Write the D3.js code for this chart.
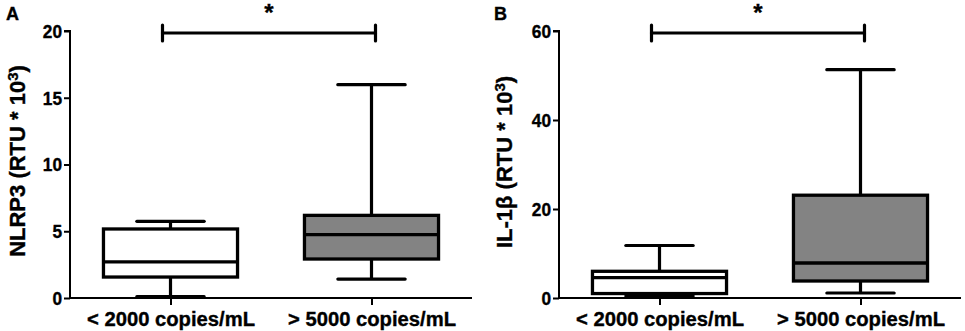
<!DOCTYPE html>
<html>
<head>
<meta charset="utf-8">
<script src="https://cdn.jsdelivr.net/npm/d3@7/dist/d3.min.js"></script>
<style>
  html, body { margin: 0; padding: 0; background: #fff; }
  svg { display: block; }
  text { font-family: "Liberation Sans", Arial, Helvetica, sans-serif; font-weight: bold; fill: #000; stroke: #000; stroke-width: 0.35px; }
</style>
</head>
<body>
<svg id="chart" width="965" height="331"></svg>
<script>
// ---- data ----
const categories = ["< 2000 copies/mL", "> 5000 copies/mL"];
// five-number summaries: [min, q1, median, q3, max]
const nlrp3Stats = [
  [0.1, 1.57, 2.70, 5.17, 5.74],
  [1.42, 2.92, 4.74, 6.19, 15.98]
];
const il1bStats = [
  [0.45, 1.0, 4.58, 6.0, 11.8],
  [1.12, 3.82, 7.87, 23.1, 51.3]
];
const nlrp3Ticks = [0, 5, 10, 15, 20];
const il1bTicks = [0, 20, 40, 60];
const boxFills = ["#ffffff", "#838383"];
const panelLetters = ["A", "B"];
const significance = ["*", "*"];

const svg = d3.select("#chart");

function drawPanel(cfg) {
  const g = svg.append("g");
  const x = d3.scalePoint().domain(categories).range([cfg.x0, cfg.x1]).padding(0.5);
  const y = d3.scaleLinear().domain([0, cfg.max]).range([298, 31]);
  const step = x.step();
  const boxW = step * 0.667;
  const capW = step * 0.335;

  // panel letter
  g.append("text").attr("x", cfg.letterX).attr("y", 20)
    .style("font-size", "18px").text(cfg.letter);

  // y axis
  const yAxis = g.append("g").attr("transform", `translate(${cfg.x0},0)`)
    .call(d3.axisLeft(y).tickValues(cfg.ticks).tickSize(6).tickPadding(2).tickFormat(d3.format("d")));
  yAxis.select(".domain").attr("stroke-width", 2).attr("d", `M-6,${y(cfg.max)}H0V${y(0)}`);
  yAxis.selectAll(".tick line").attr("stroke-width", 2);
  yAxis.selectAll(".tick text").style("font-size", "17.5px").attr("dy", "0.36em")
    .attr("textLength", d => String(d).length * 9.6).attr("lengthAdjust", "spacingAndGlyphs");

  // x axis
  const xAxis = g.append("g").attr("transform", `translate(0,${y(0)})`)
    .call(d3.axisBottom(x).tickSize(7).tickPadding(5));
  xAxis.select(".domain").attr("stroke-width", 2).attr("d", `M${cfg.x0},0H${cfg.x1}`);
  xAxis.selectAll(".tick line").attr("stroke-width", 2);
  xAxis.selectAll(".tick text").style("font-size", "19.5px")
    .attr("y", 28).attr("dy", 0).attr("textLength", 168).attr("lengthAdjust", "spacingAndGlyphs");

  // y axis title
  const t = g.append("text")
    .attr("transform", `translate(${cfg.titleX},${cfg.titleY}) rotate(-90)`)
    .attr("text-anchor", "middle")
    .style("font-size", "22px");
  t.append("tspan").text(cfg.title + " (RTU * 10");
  t.append("tspan").attr("dy", "-0.5em").style("font-size", "15px").text("3");
  t.append("tspan").attr("dy", "0.34em").text(")");

  // boxes
  cfg.stats.forEach((s, i) => {
    const cx = x(categories[i]);
    const bg = g.append("g");
    // whiskers
    bg.append("line").attr("x1", cx).attr("x2", cx).attr("y1", y(s[3])).attr("y2", y(s[4]))
      .attr("stroke", "#000").attr("stroke-width", 3.2);
    bg.append("line").attr("x1", cx).attr("x2", cx).attr("y1", y(s[0])).attr("y2", y(s[1]))
      .attr("stroke", "#000").attr("stroke-width", 3.2);
    // caps
    [s[0], s[4]].forEach(v => {
      bg.append("line").attr("x1", cx - capW / 2).attr("x2", cx + capW / 2)
        .attr("y1", y(v)).attr("y2", y(v))
        .attr("stroke", "#000").attr("stroke-width", 3.2).attr("stroke-linecap", "round");
    });
    // box
    bg.append("rect").attr("x", cx - boxW / 2).attr("width", boxW)
      .attr("y", y(s[3])).attr("height", y(s[1]) - y(s[3]))
      .attr("fill", boxFills[i]).attr("stroke", "#000").attr("stroke-width", 3.3);
    // median
    bg.append("line").attr("x1", cx - boxW / 2).attr("x2", cx + boxW / 2)
      .attr("y1", y(s[2])).attr("y2", y(s[2]))
      .attr("stroke", "#000").attr("stroke-width", 3.3);
  });

  // significance bar
  const bx1 = x(categories[0]) - 8, bx2 = x(categories[1]) + 4, by = 33;
  const sig = g.append("g").attr("stroke", "#000").attr("stroke-width", 3.2).attr("stroke-linecap", "round");
  sig.append("line").attr("x1", bx1).attr("x2", bx2).attr("y1", by).attr("y2", by);
  sig.append("line").attr("x1", bx1).attr("x2", bx1).attr("y1", by - 8).attr("y2", by + 8);
  sig.append("line").attr("x1", bx2).attr("x2", bx2).attr("y1", by - 8).attr("y2", by + 8);
  g.append("text").attr("x", (bx1 + bx2) / 2).attr("y", 21).attr("text-anchor", "middle")
    .style("font-size", "24px").text(cfg.sig);
}

drawPanel({ x0: 70, x1: 472, max: 20, ticks: nlrp3Ticks, stats: nlrp3Stats, letter: panelLetters[0], letterX: 6,
  title: "NLRP3", titleX: 25, titleY: 161, sig: significance[0] });
drawPanel({ x0: 559, x1: 961, max: 60, ticks: il1bTicks, stats: il1bStats, letter: panelLetters[1], letterX: 494,
  title: "IL-1β", titleX: 512, titleY: 162, sig: significance[1] });
</script>
</body>
</html>
